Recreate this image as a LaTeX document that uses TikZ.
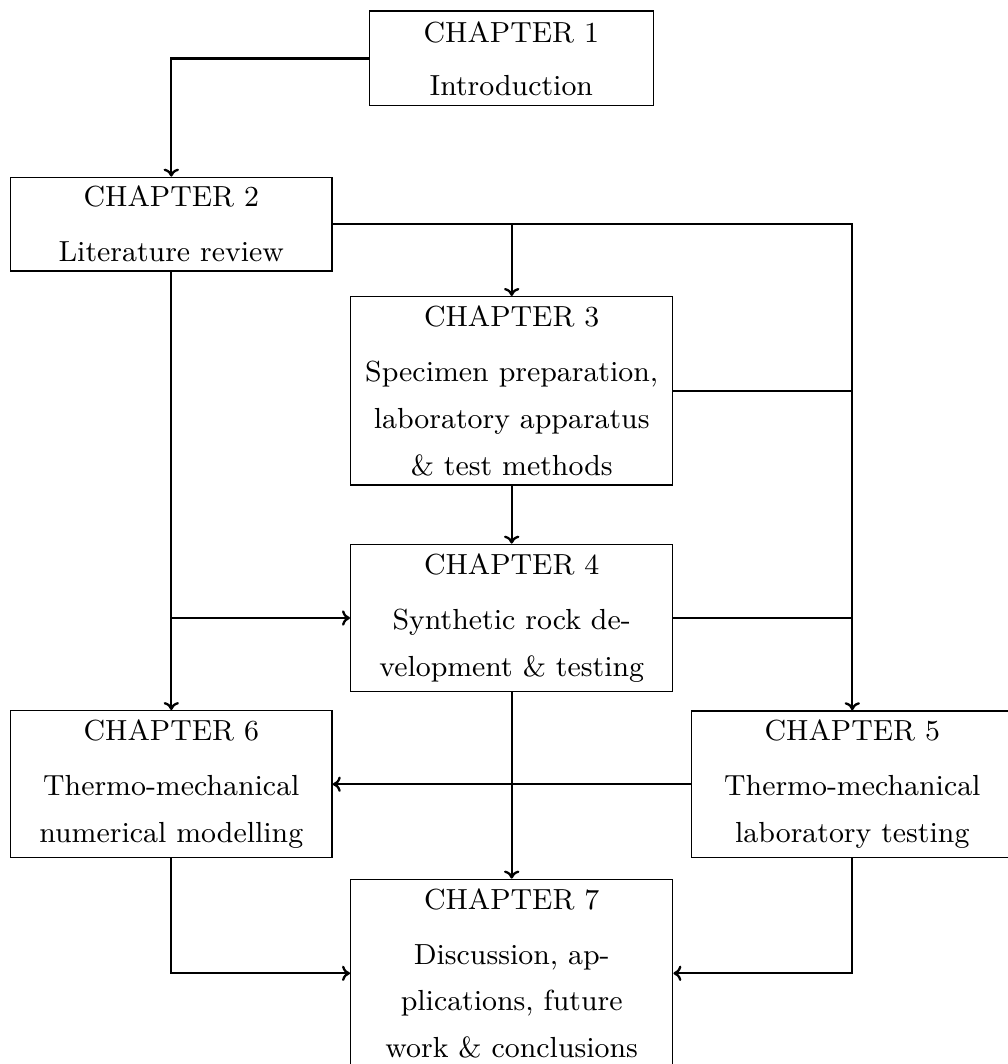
\documentclass[tikz,border=0pt]{standalone}
\usepackage{fontspec}
\usetikzlibrary{calc,arrows.meta}
\begin{document}
\begin{tikzpicture}[x=0.3253pt,y=-0.3253pt,
  chapbox/.style={draw, line width=0.45pt, align=center, inner sep=1pt,
    font=\fontsize{9.45}{15.2}\selectfont, minimum width=104.75pt},
  conn/.style={line width=0.75pt, line join=miter},
  arr/.style={conn, -{To[length=2.6pt,width=5pt]}}]
\useasboundingbox (0,0) rectangle (1008,1064);
\node[chapbox, minimum width=92.4pt, minimum height=30.8pt] (ch1) at (511.3,58.4) {CHAPTER 1\\[2pt]Introduction};
\node[chapbox, minimum width=104.5pt, minimum height=30.5pt] (ch2) at (171.3,224.2) {CHAPTER 2\\[2.7pt]Literature review};
\node[chapbox, minimum height=61.25pt] (ch3) at (511.7,390.8) {CHAPTER 3\\[2.7pt]Specimen preparation,\\laboratory apparatus\\\& test methods};
\node[chapbox, minimum height=47.95pt] (ch4) at (511.7,618) {CHAPTER 4\\[2.7pt]Synthetic rock de-\\velopment \& testing};
\node[chapbox, minimum width=104.6pt, minimum height=47.8pt] (ch6) at (171.3,784.2) {CHAPTER 6\\[2.7pt]Thermo-mechanical\\numerical modelling};
\node[chapbox, minimum height=47.7pt] (ch5) at (852.3,784.2) {CHAPTER 5\\[2.7pt]Thermo-mechanical\\laboratory testing};
\node[chapbox, minimum height=61.2pt] (ch7) at (511.7,973.3) {CHAPTER 7\\[2.7pt]Discussion, ap-\\plications, future\\work \& conclusions};

\draw[arr] (ch1.west) -| (ch2.north);
\draw[arr] (ch2.east) -| (ch5.north);
\draw[arr] (ch3.north |- ch2.east) -- (ch3.north);
\draw[conn] (ch3.east) -- (ch3.east -| ch5.north);
\draw[arr] (ch3.south) -- (ch4.north);
\draw[arr] (ch2.south) -- (ch2.south |- ch6.north);
\draw[arr] (ch2.south |- ch4.west) -- (ch4.west);
\draw[conn] (ch4.east) -- (ch4.east -| ch5.north);
\draw[arr] (ch4.south) -- (ch7.north);
\draw[arr] (ch5.west) -- (ch6.east);
\draw[arr] (ch6.south) |- (ch7.west);
\draw[arr] (ch5.south) |- (ch7.east);
\end{tikzpicture}
\end{document}
